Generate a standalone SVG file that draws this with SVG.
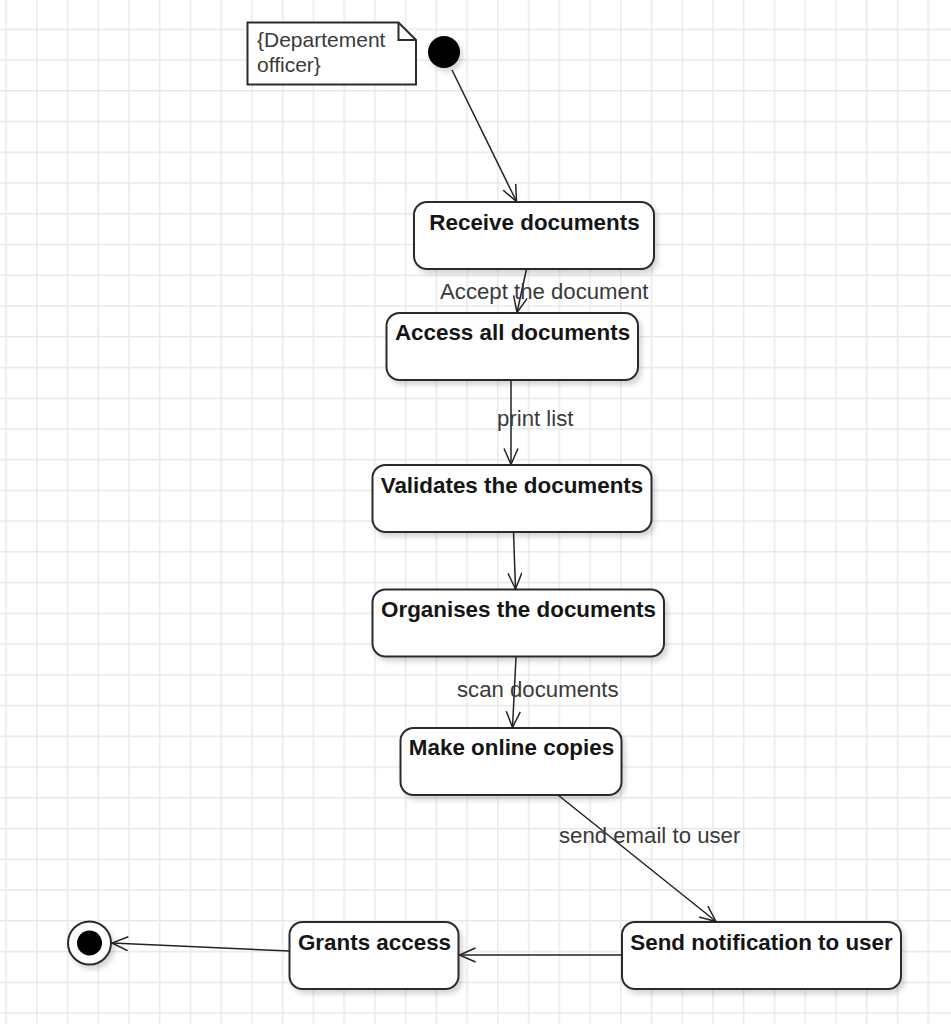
<svg xmlns="http://www.w3.org/2000/svg" width="951" height="1024" viewBox="0 0 951 1024">
  <defs>
    <pattern id="grid" patternUnits="userSpaceOnUse" x="5.25" y="-2.2" width="30.74" height="30.74">
      <path d="M0.75 0V30.74M0 0.75H30.74" fill="none" stroke="#e8e8e8" stroke-width="1.4"/>
    </pattern>
    <filter id="shadow" x="-20%" y="-20%" width="150%" height="160%">
      <feDropShadow dx="3" dy="4" stdDeviation="2.5" flood-color="#000" flood-opacity="0.16"/>
    </filter>
    <marker id="open" markerUnits="userSpaceOnUse" markerWidth="20" markerHeight="18" refX="17" refY="7.5" orient="auto">
      <path d="M1,0.5 L17,7.5 L1,14.5" fill="none" stroke="#222" stroke-width="1.5"/>
    </marker>
    <style>
      .state { fill: #fff; stroke: #2b2b2b; stroke-width: 2; filter: url(#shadow); }
      .title { font-family: "Liberation Sans", Arial, sans-serif; font-size: 22.4px; font-weight: bold; fill: #151515; text-anchor: middle; }
      .label { font-family: "Liberation Sans", Arial, sans-serif; font-size: 22.2px; fill: #3a3a3a; }
      .note { font-family: "Liberation Sans", Arial, sans-serif; font-size: 21px; fill: #3a3a3a; }
      .edge { fill: none; stroke: #222; stroke-width: 1.5; marker-end: url(#open); }
    </style>
  </defs>

  <!-- background grid -->
  <rect width="951" height="1024" fill="#fff"/>
  <rect width="951" height="1024" fill="url(#grid)"/>

  <!-- constraint note -->
  <g id="note">
    <path d="M247.5 22.5H398.5L416 40V84.5H247.5Z" fill="#fff" stroke="#2b2b2b" stroke-width="2"/>
    <path d="M398.5 22.5V40H416" fill="none" stroke="#2b2b2b" stroke-width="2"/>
    <text class="note" x="257" y="47">{Departement</text>
    <text class="note" x="257" y="71.5">officer}</text>
  </g>

  <!-- start state -->
  <g id="initial">
    <circle cx="444" cy="52" r="16" fill="#000" filter="url(#shadow)"/>
  </g>

  <g id="receive">
    <rect class="state" x="414" y="202" width="240" height="67" rx="13"/>
    <text class="title" x="534.5" y="230">Receive documents</text>
  </g>

  <g id="access">
    <rect class="state" x="386.5" y="313" width="251.5" height="67" rx="13"/>
    <text class="title" x="512.5" y="340">Access all documents</text>
  </g>

  <g id="validate">
    <rect class="state" x="372.5" y="465" width="279" height="67" rx="13"/>
    <text class="title" x="512" y="493">Validates the documents</text>
  </g>

  <g id="organise">
    <rect class="state" x="372.5" y="589.5" width="291.5" height="67" rx="13"/>
    <text class="title" x="518.5" y="617">Organises the documents</text>
  </g>

  <g id="copies">
    <rect class="state" x="400.5" y="728" width="221" height="67" rx="13"/>
    <text class="title" x="511.5" y="755">Make online copies</text>
  </g>

  <g id="notify">
    <rect class="state" x="622" y="922" width="279" height="67" rx="13"/>
    <text class="title" x="761.5" y="950">Send notification to user</text>
  </g>

  <g id="grants">
    <rect class="state" x="289.5" y="922" width="169" height="67" rx="13"/>
    <text class="title" x="374.5" y="950">Grants access</text>
  </g>

  <!-- end state -->
  <g id="final">
    <circle cx="89.5" cy="943" r="21.5" fill="#fff" stroke="#2b2b2b" stroke-width="2" filter="url(#shadow)"/>
    <circle cx="89.5" cy="943" r="12.5" fill="#000"/>
  </g>

  <!-- transitions -->
  <g id="connectors">
    <path class="edge" d="M452 70L516.5 201.5"/>
    <path class="edge" d="M526.5 269L517 312.5"/>
    <path class="edge" d="M511 380L511 464.5"/>
    <path class="edge" d="M513.5 532L515.5 589"/>
    <path class="edge" d="M516 657L512.5 727.5"/>
    <path class="edge" d="M558 795L716 921.5"/>
    <path class="edge" d="M622 955L459.5 955"/>
    <path class="edge" d="M289.5 951L112 943"/>
    <text class="label" x="440" y="299">Accept the document</text>
    <text class="label" x="497" y="426">print list</text>
    <text class="label" x="457" y="697">scan documents</text>
    <text class="label" x="559" y="843">send email to user</text>
  </g>
</svg>
